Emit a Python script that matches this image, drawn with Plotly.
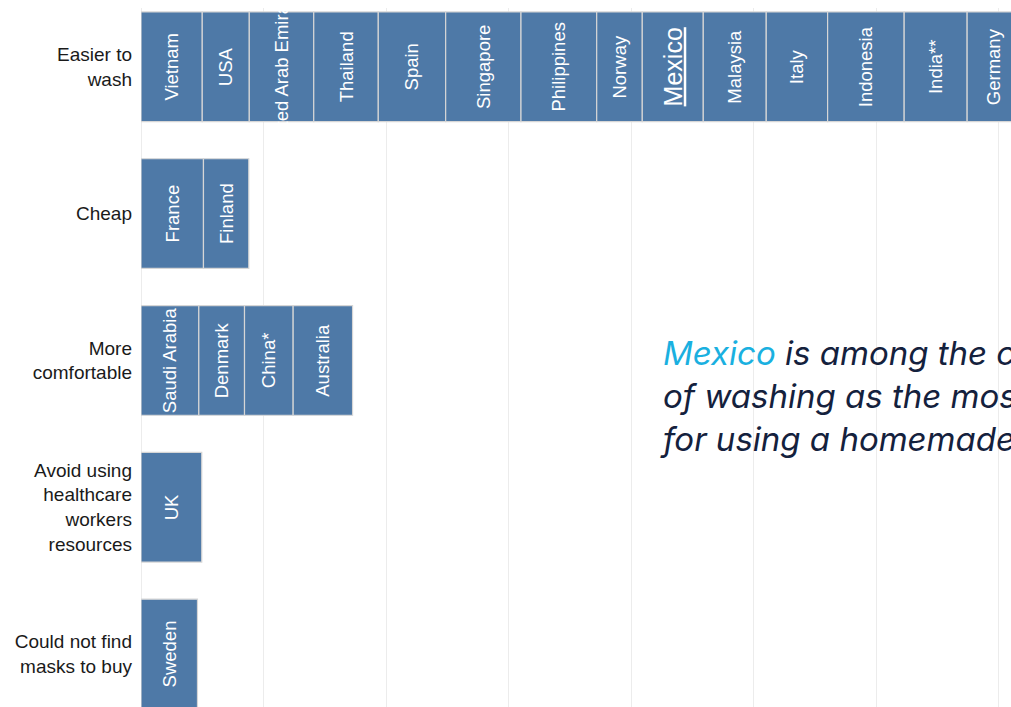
import plotly.graph_objects as go

# ---- data ----
categories = [
    "Easier to<br>wash",
    "Cheap",
    "More<br>comfortable",
    "Avoid using<br>healthcare<br>workers<br>resources",
    "Could not find<br>masks to buy",
]

easier_countries = ["Vietnam", "USA", "United Arab Emirates", "Thailand", "Spain", "Singapore",
                    "Philippines", "Norway", "Mexico", "Malaysia", "Italy", "Indonesia",
                    "India**", "Germany"]
easier_values = [5.0, 3.84, 5.26, 5.27, 5.5, 6.15, 6.18, 3.72, 4.98, 5.14, 5.01, 6.25, 5.14, 4.3]

cheap_countries = ["France", "Finland"]
cheap_values = [5.1, 3.7]

comfortable_countries = ["Saudi Arabia", "Denmark", "China*", "Australia"]
comfortable_values = [4.72, 3.73, 3.97, 4.85]

avoid_countries = ["UK"]
avoid_values = [4.96]

notfind_countries = ["Sweden"]
notfind_values = [4.61]

highlight = "Mexico"
note_lines = [
    "<span style='color:#1AB0E0'>Mexico</span> is among the countries that cite ease",
    "of washing as the most important reason",
    "for using a homemade mask",
]

# ---- build one stacked trace with explicit bases ----
groups = [
    (easier_countries, easier_values),
    (cheap_countries, cheap_values),
    (comfortable_countries, comfortable_values),
    (avoid_countries, avoid_values),
    (notfind_countries, notfind_values),
]
xs, bases, ys, texts, sizes = [], [], [], [], []
for gi, (names, vals) in enumerate(groups):
    run = 0.0
    for n, v in zip(names, vals):
        xs.append(v)
        bases.append(run)
        ys.append(gi)
        if n == highlight:
            texts.append("<u>" + n + "</u>")
            sizes.append(25)
        else:
            texts.append(n)
            sizes.append(18.5)
        run += v

fig = go.Figure()
fig.add_trace(go.Bar(
    x=xs, base=bases, y=ys, orientation="h",
    width=0.747,
    marker=dict(color="#4E79A7", line=dict(color="#D6D6D6", width=1.2)),
    text=texts,
    textposition="inside",
    insidetextanchor="middle",
    textangle=-90,
    constraintext="none",
    textfont=dict(family="Liberation Sans, Arial, sans-serif", color="white", size=sizes),
    hoverinfo="skip",
    showlegend=False,
))

fig.add_annotation(
    xref="paper", yref="paper",
    x=(658 - 141) / 870, y=(707 - 396) / 699,
    xanchor="left", yanchor="middle", align="left",
    text="<i>" + "<br>".join(note_lines) + "</i>",
    showarrow=False,
    font=dict(family="Inter, Open Sans, sans-serif", size=33, color="#14213D"),
)

fig.update_layout(
    width=1011, height=707,
    margin=dict(l=141, r=0, t=8, b=0),
    paper_bgcolor="white", plot_bgcolor="white",
    barmode="overlay",
    bargap=0,
    xaxis=dict(range=[0, 870 / 12.25], dtick=10, tick0=0, showgrid=True,
               gridcolor="#ECECEC", gridwidth=1, zeroline=True, zerolinecolor="#ECECEC",
               zerolinewidth=1, showticklabels=False, showline=False, fixedrange=True),
    yaxis=dict(range=[4.361, -0.4005], tickvals=list(range(len(categories))),
               ticktext=categories, showgrid=False, zeroline=False, showline=False,
               ticks="", ticklabelstandoff=8, fixedrange=True,
               tickfont=dict(family="Liberation Sans, Arial, sans-serif", size=19, color="#1A1A1A")),
)

fig.write_html(
    "out.html",
    config={"displayModeBar": False, "staticPlot": True},
    post_script="document.body.style.margin='0';document.body.style.overflow='hidden';",
)
